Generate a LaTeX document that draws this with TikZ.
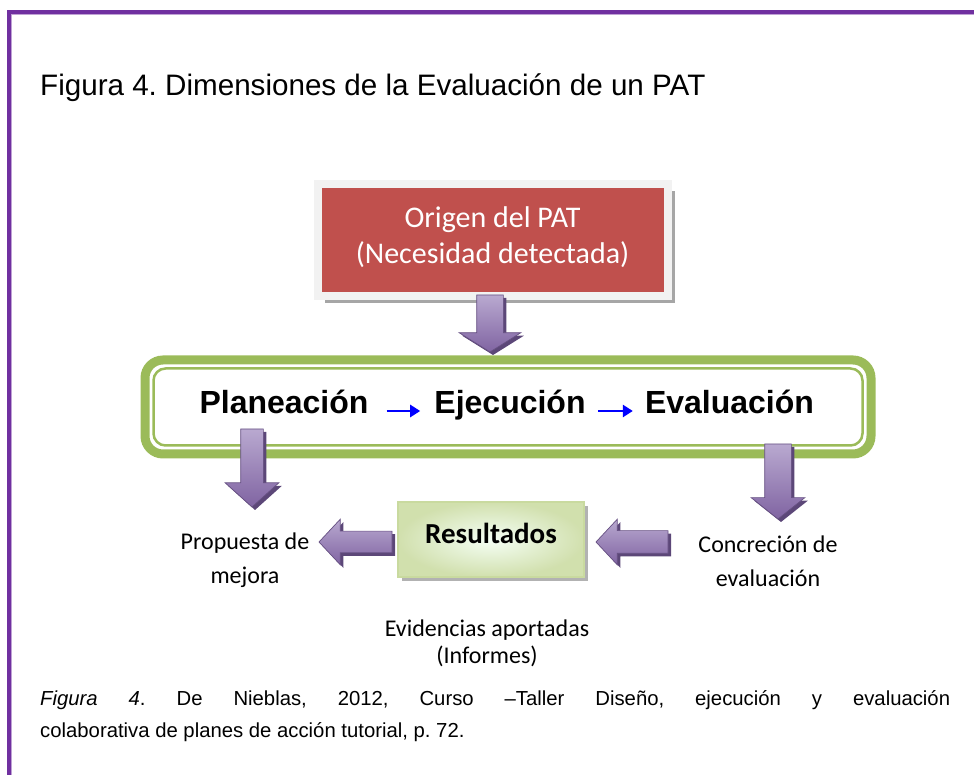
\documentclass[tikz,border=0pt]{standalone}
\usepackage{fontspec}
\setmainfont{Liberation Sans}
\newfontfamily\calibri{Carlito}
\usepackage{tikz}
\usetikzlibrary{calc,shapes.arrows,shadows,arrows.meta}
\frenchspacing
\definecolor{marco}{HTML}{7030A0}
\definecolor{rojo}{HTML}{C0504D}
\definecolor{verde}{HTML}{9BBB59}
\definecolor{verdeclaro}{HTML}{C9DA9F}
\definecolor{lila}{HTML}{B9A9D0}
\definecolor{morado}{HTML}{8064A2}
\definecolor{sombra}{HTML}{5C4778}
\definecolor{azul}{HTML}{0000FF}
\tikzset{
  titulo/.style={inner sep=0pt, font=\fontsize{29.6}{33}\selectfont},
  origenbox/.style={fill=rojo, draw=black!5, line width=8pt, outer sep=0pt,
    drop shadow={shadow xshift=7pt, shadow yshift=-7pt, fill=black!35, opacity=1}},
  origentxt/.style={text=white, align=center, inner sep=0pt,
    font=\calibri\fontsize{30}{36}\selectfont},
  fasebox/.style={draw=verde, line width=9pt, rounded corners=18pt, outer sep=0pt},
  fase/.style={inner sep=0pt, font=\bfseries\fontsize{32}{36}\selectfont},
  flechita/.style={draw=azul, line width=2.6pt, -{Triangle[length=10pt,width=12pt]}},
  bloque/.style={single arrow, inner sep=0pt, outer sep=0pt, draw=morado!80!black,
    line width=0.7pt, top color=lila, bottom color=morado,
    drop shadow={shadow xshift=3pt, shadow yshift=-3pt, fill=sombra, opacity=1}},
  abajo/.style={shape border rotate=270},
  izq/.style={shape border rotate=180},
  resbox/.style={draw=verdeclaro, line width=1.5pt, outer sep=0pt,
    inner color=green!4!white, outer color=verdeclaro!85!white,
    drop shadow={shadow xshift=4pt, shadow yshift=-4pt, fill=black!30, opacity=1},
    font=\calibri\bfseries\fontsize{29}{32}\selectfont},
  nota/.style={align=center, inner sep=0pt, font=\calibri\fontsize{24}{34}\selectfont},
  nota2/.style={align=center, inner sep=0pt, font=\calibri\fontsize{24}{27}\selectfont},
  pie/.style={text width=910pt, align=justify, inner sep=0pt,
    font=\fontsize{20.3}{32}\selectfont}
}
\begin{document}
\begin{tikzpicture}[x=1pt,y=1pt]
  \useasboundingbox (0,0) rectangle (974,774);
  % marco de la figura
  \draw[marco, line width=4pt] (9,-5) -- (9,762) -- (980,762);
  \draw[marco!45, line width=1pt] (11.5,-5) -- (11.5,759.5) -- (980,759.5);

  \node[titulo, anchor=west] (tit) at (40,686) {Figura 4. Dimensiones de la Evaluación de un PAT};

  % origen
  \node[origenbox, minimum width=350, minimum height=112] (origen) at (492.5,534) {};
  \node[origentxt] (origenlbl) at ([yshift=3pt]origen.center) {Origen del PAT\\(Necesidad detectada)};
  \node[bloque, abajo, anchor=tail, minimum height=57, inner sep=13pt,
    single arrow head extend=17.5pt, single arrow tip angle=116] (f1) at (490,479) {};

  % fases
  \node[fasebox, minimum width=726, minimum height=94] (pee) at (508,367) {};
  \draw[verde, line width=2.5pt, rounded corners=12pt]
    ($(pee.south west)+(8.5,8.5)$) rectangle ($(pee.north east)+(-8.5,-8.5)$);
  \node[fase, anchor=base] (plan) at (284,360) {Planeación};
  \node[fase, anchor=base] (ejec) at (510,360) {Ejecución};
  \node[fase, anchor=base] (eval) at (729.5,360) {Evaluación};
  \draw[flechita] ([xshift=18pt,yshift=3pt]plan.base east) -- ([xshift=-14pt,yshift=3pt]ejec.base west);
  \draw[flechita] ([xshift=12pt,yshift=3pt]ejec.base east) -- ([xshift=-12pt,yshift=3pt]eval.base west);

  \node[bloque, abajo, anchor=tail, minimum height=78, inner sep=11pt,
    single arrow head extend=15.5pt, single arrow tip angle=96] (f2) at (252,345) {};
  \node[bloque, abajo, anchor=tail, minimum height=75, inner sep=13pt,
    single arrow head extend=13.5pt, single arrow tip angle=103] (f3) at (778,330) {};

  % resultados
  \node[resbox, minimum width=186, minimum height=75, text depth=13pt] (res) at (491,234.5) {Resultados};
  \node[bloque, izq, anchor=tail, minimum height=73, inner sep=10.5pt,
    single arrow head extend=12pt, single arrow tip angle=94] (f4) at (392,232) {};
  \node[bloque, izq, anchor=tail, minimum height=72, inner sep=11pt,
    single arrow head extend=11.5pt, single arrow tip angle=94] (f5) at (668,232) {};

  \node[nota] (prop) at (245,214) {Propuesta de\\mejora};
  \node[nota] (conc) at (768,212.5) {Concreción de\\evaluación};
  \node[nota2] (evid) at (487,131) {Evidencias aportadas\\(Informes)};

  % pie de figura
  \node[pie, anchor=north west] (cap) at (40,84) {\textit{Figura 4}. De Nieblas, 2012, Curso –Taller Diseño, ejecución y evaluación\linebreak colaborativa de planes de acción tutorial, p. 72.};
\end{tikzpicture}
\end{document}
